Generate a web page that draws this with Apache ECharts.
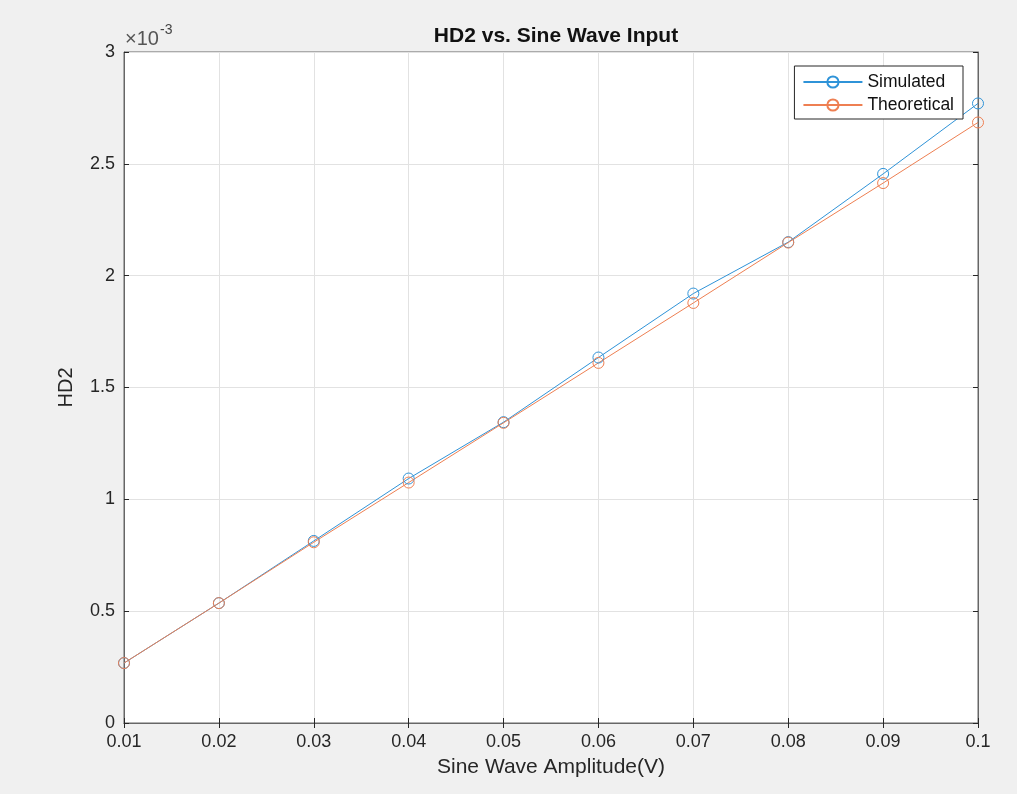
<!DOCTYPE html>
<html>
<head>
<meta charset="utf-8">
<script src="https://cdn.jsdelivr.net/npm/echarts@6/dist/echarts.min.js"></script>
<style>
html,body{margin:0;padding:0;background:#f0f0f0;}
#chart{width:1017px;height:794px;}
</style>
</head>
<body>
<div id="chart"></div>
<script>
const amplitudes = [0.01, 0.02, 0.03, 0.04, 0.05, 0.06, 0.07, 0.08, 0.09, 0.1];
const simulated = [0.268e-3, 0.536e-3, 0.814e-3, 1.093e-3, 1.345e-3, 1.634e-3, 1.920e-3, 2.150e-3, 2.455e-3, 2.770e-3];
const theoretical = [0.268e-3, 0.536e-3, 0.808e-3, 1.075e-3, 1.342e-3, 1.610e-3, 1.878e-3, 2.148e-3, 2.414e-3, 2.685e-3];
const seriesNames = ['Simulated', 'Theoretical'];
const titleText = 'HD2 vs. Sine Wave Input';
const xLabel = 'Sine Wave Amplitude(V)';
const yLabel = 'HD2';

const FONT = 'Liberation Sans, Arial, Helvetica, sans-serif';
const TXT = '#262626';
const AX = '#666666';
const BLUE = '#2f93d8';
const ORANGE = '#ee7f52';
const chart = echarts.init(document.getElementById('chart'));

function pairs(ys){ return amplitudes.map((x,i)=>[x, ys[i]]); }

chart.setOption({
  backgroundColor: '#f0f0f0',
  animation: false,
  title: {
    text: titleText, left: 551, textAlign: 'center', top: 21,
    textStyle: {fontFamily: FONT, fontSize: 21, fontWeight: 'bold', color: '#111'}
  },
  grid: {left: 124, right: 39, top: 52, bottom: 71, show: true, backgroundColor: '#fff', borderColor: AX, borderWidth: 1},
  legend: {
    right: 54, top: 66, orient: 'vertical',
    backgroundColor: '#fff', borderColor: '#262626', borderWidth: 1, borderRadius: 0,
    padding: [7, 9, 5, 8], itemGap: 5, itemWidth: 59, itemHeight: 14,
    textStyle: {fontFamily: FONT, fontSize: 17.5, color: '#111'},
    data: seriesNames
  },
  xAxis: [{
    type: 'value', min: 0.01, max: 0.1, interval: 0.01,
    name: xLabel, nameLocation: 'middle', nameGap: 34,
    nameTextStyle: {fontFamily: FONT, fontSize: 21, color: TXT},
    axisLine: {lineStyle: {color: AX}},
    axisTick: {inside: true, length: 5, lineStyle: {color: '#262626'}},
    axisLabel: {fontFamily: FONT, fontSize: 18, color: TXT, margin: 10,
      formatter: v => String(parseFloat(v.toFixed(2)))},
    splitLine: {show: true, lineStyle: {color: '#e2e2e2'}}
  }, {
    type: 'value', min: 0.01, max: 0.1, interval: 0.01, position: 'top',
    axisLine: {show: true, lineStyle: {color: AX}},
    axisTick: {inside: true, length: 5, lineStyle: {color: '#262626'}},
    axisLabel: {show: false}, splitLine: {show: false}
  }],
  yAxis: [{
    type: 'value', min: 0, max: 0.003, interval: 0.0005,
    name: yLabel, nameLocation: 'middle', nameGap: 48,
    nameTextStyle: {fontFamily: FONT, fontSize: 20, color: TXT},
    axisLine: {show: true, lineStyle: {color: AX}},
    axisTick: {show: true, inside: true, length: 5, lineStyle: {color: '#262626'}},
    axisLabel: {fontFamily: FONT, fontSize: 18, color: TXT, margin: 9,
      formatter: v => String(parseFloat((v*1000).toFixed(2)))},
    splitLine: {show: true, lineStyle: {color: '#e2e2e2'}}
  }, {
    type: 'value', min: 0, max: 0.003, interval: 0.0005, position: 'right',
    axisLine: {show: true, lineStyle: {color: AX}},
    axisTick: {show: true, inside: true, length: 5, lineStyle: {color: '#262626'}},
    axisLabel: {show: false}, splitLine: {show: false}
  }],
  graphic: [{
    type: 'text', x: 125, y: 39,
    style: {text: '×10', fontFamily: FONT, fontSize: 20, fill: '#555', verticalAlign: 'middle'}
  }, {
    type: 'text', x: 160, y: 30,
    style: {text: '-3', fontFamily: FONT, fontSize: 14, fill: '#444', verticalAlign: 'middle'}
  }],
  series: [{
    name: seriesNames[0], type: 'line', data: pairs(simulated),
    symbol: 'circle', symbolSize: 11,
    itemStyle: {color: 'rgba(255,255,255,0)', borderColor: BLUE, borderWidth: 1},
    lineStyle: {color: BLUE, width: 1}
  }, {
    name: seriesNames[1], type: 'line', data: pairs(theoretical),
    symbol: 'circle', symbolSize: 11,
    itemStyle: {color: 'rgba(255,255,255,0)', borderColor: ORANGE, borderWidth: 1},
    lineStyle: {color: ORANGE, width: 1}
  }]
});
</script>
</body>
</html>
